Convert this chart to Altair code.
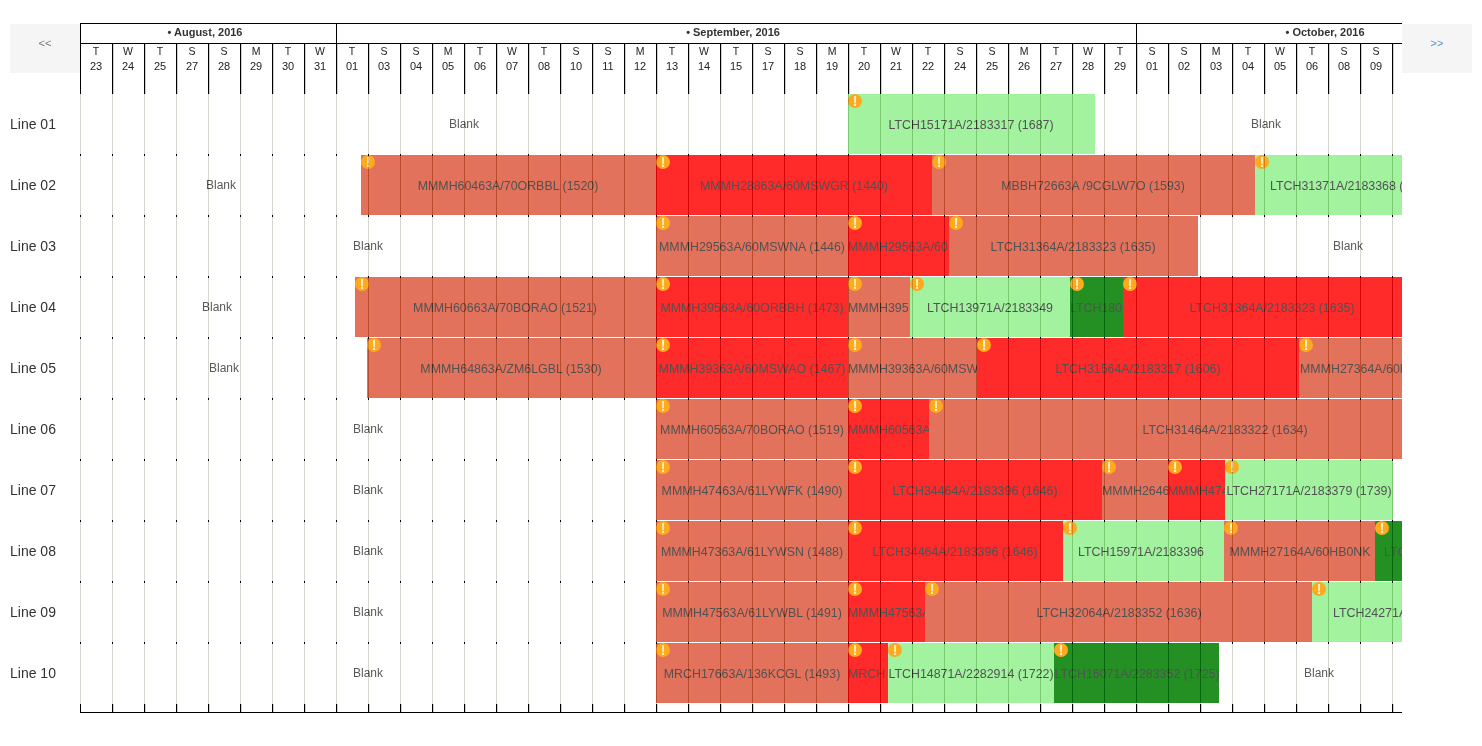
import altair as alt
import pandas as pd

# Timeline units: 32 units per displayed day; rows are 61 units tall.
DAY = 32
ROW = 61
FONT = "Liberation Sans"

months = ["•  August, 2016", "•  September, 2016", "•  October, 2016"]
month_starts = [0, 256, 1056]
month_label_pos = [125, 653, 1245]

day_letters = list("TWTSSMTW") + list("TSSMTWTSSMTWTSSMTWTSSMTWT") + list("SSMTWTSS")
day_numbers = ["23", "24", "25", "27", "28", "29", "30", "31",
               "01", "03", "04", "05", "06", "07", "08", "10", "11", "12", "13", "14", "15",
               "17", "18", "19", "20", "21", "22", "24", "25", "26", "27", "28", "29",
               "01", "02", "03", "04", "05", "06", "08", "09"]

lines = ["Line 01", "Line 02", "Line 03", "Line 04", "Line 05",
         "Line 06", "Line 07", "Line 08", "Line 09", "Line 10"]

seg_rows = [0,
            1, 1, 1, 1,
            2, 2, 2,
            3, 3, 3, 3, 3, 3,
            4, 4, 4, 4, 4,
            5, 5, 5,
            6, 6, 6, 6, 6,
            7, 7, 7, 7, 7,
            8, 8, 8, 8,
            9, 9, 9, 9]
seg_starts = [768,
              281, 576, 852, 1175,
              576, 768, 869,
              275, 576, 768, 830, 990, 1043,
              287, 576, 768, 897, 1219,
              576, 768, 849,
              576, 768, 1022, 1088, 1145,
              576, 768, 983, 1144, 1295,
              576, 768, 845, 1232,
              576, 768, 808, 974]
seg_ends = [1015,
            576, 852, 1175, 1322,
            768, 869, 1118,
            576, 768, 830, 990, 1043, 1322,
            576, 768, 897, 1219, 1322,
            768, 849, 1322,
            768, 1022, 1088, 1145, 1313,
            768, 983, 1144, 1295, 1322,
            768, 845, 1232, 1322,
            768, 808, 974, 1139]
seg_status = ["light",
              "salmon", "red", "salmon", "light",
              "salmon", "red", "salmon",
              "salmon", "red", "salmon", "light", "dark", "red",
              "salmon", "red", "salmon", "red", "salmon",
              "salmon", "red", "salmon",
              "salmon", "red", "salmon", "red", "light",
              "salmon", "red", "light", "salmon", "dark",
              "salmon", "red", "salmon", "light",
              "salmon", "red", "light", "dark"]
seg_labels = ["LTCH15171A/2183317 (1687)",
              "MMMH60463A/70ORBBL (1520)", "MMMH28863A/60MSWGR (1440)", "MBBH72663A /9CGLW7O (1593)", "LTCH31371A/2183368 (",
              "MMMH29563A/60MSWNA (1446)", "MMMH29563A/60", "LTCH31364A/2183323 (1635)",
              "MMMH60663A/70BORAO (1521)", "MMMH39563A/60ORBBH (1473)", "MMMH395", "LTCH13971A/2183349", "LTCH180", "LTCH31364A/2183323 (1635)",
              "MMMH64863A/ZM6LGBL (1530)", "MMMH39363A/60MSWAO (1467)", "MMMH39363A/60MSW", "LTCH31564A/2183317 (1606)", "MMMH27364A/60H",
              "MMMH60563A/70BORAO (1519)", "MMMH60563A", "LTCH31464A/2183322 (1634)",
              "MMMH47463A/61LYWFK (1490)", "LTCH34464A/2183396 (1646)", "MMMH2646", "MMMH474", "LTCH27171A/2183379 (1739)",
              "MMMH47363A/61LYWSN (1488)", "LTCH34464A/2183396 (1646)", "LTCH15971A/2183396", "MMMH27164A/60HB0NK", "LTC",
              "MMMH47563A/61LYWBL (1491)", "MMMH47563A", "LTCH32064A/2183352 (1636)", "LTCH24271A",
              "MRCH17663A/136KCGL (1493)", "MRCH", "LTCH14871A/2282914 (1722)", "LTCH16071A/2283352 (1725)"]
label_pos = [891,
             428, 714, 1013, 1190,
             672, 768, 993,
             425, 672, 768, 910, 990, 1192,
             431, 672, 768, 1058, 1220,
             672, 768, 1145,
             672, 895, 1022, 1088, 1229,
             672, 875, 1061, 1220, 1304,
             672, 768, 1039, 1253,
             672, 768, 891, 1057]
label_align = ["center",
               "center", "center", "center", "left",
               "center", "left", "center",
               "center", "center", "left", "center", "left", "center",
               "center", "center", "left", "center", "left",
               "center", "left", "center",
               "center", "center", "left", "left", "center",
               "center", "center", "center", "center", "left",
               "center", "left", "center", "left",
               "center", "left", "center", "center"]

blank_rows = [0, 0, 1, 2, 2, 3, 4, 5, 6, 7, 8, 9, 9]
blank_pos = [384, 1186, 141, 288, 1268, 137, 144, 288, 288, 288, 288, 288, 1239]

status_order = ["salmon", "red", "light", "dark"]
status_colors = ["#e2725b", "#ff2a2a", "#a2f2a0", "#249024"]

N_DAYS = len(day_numbers)
TIMELINE_END = 1322
X_MIN, X_MAX = -72, 1394
Y_MIN, Y_MAX = -86, 644
PX = 0.5  # puts 1-wide rules on whole device pixels

x_scale = alt.Scale(domain=[X_MIN, X_MAX], nice=False, zero=False)
y_scale = alt.Scale(domain=[Y_MIN, Y_MAX], nice=False, zero=False, reverse=True)
X = lambda f="x": alt.X(f"{f}:Q", scale=x_scale, axis=None, title=None)
Y = lambda f="y": alt.Y(f"{f}:Q", scale=y_scale, axis=None, title=None)
X2 = lambda f="x2": alt.X2(f"{f}:Q")
Y2 = lambda f="y2": alt.Y2(f"{f}:Q")

segs = pd.DataFrame({
    "row": seg_rows, "x": seg_starts, "x2": seg_ends, "status": seg_status,
    "label": seg_labels, "pos": label_pos, "align": label_align,
})
segs["y"] = segs["row"] * ROW
segs["y2"] = segs["y"] + ROW - 1
segs["ly"] = segs["y"] + ROW / 2

# Clipped labels overflow their bar; the bar that follows is drawn again on top of them.
left_segs = segs[segs["align"] == "left"]
left_ends = set(zip(left_segs["row"], left_segs["x2"]))
is_cover = [(r, s) in left_ends for r, s in zip(segs["row"], segs["x"])]
cover_segs = segs[is_cover]
late_left = cover_segs[cover_segs["align"] == "left"]
late_ends = set(zip(late_left["row"], late_left["x2"]))
late_cover = segs[[(r, s) in late_ends for r, s in zip(segs["row"], segs["x"])]]
early_left = left_segs[[(r, s) not in left_ends for r, s in zip(left_segs["row"], left_segs["x"])]]

days = pd.DataFrame({"i": range(N_DAYS), "letter": day_letters, "num": day_numbers})
days["c"] = days["i"] * DAY + DAY / 2
days["yl"] = -42.5
days["yn"] = -27.5

edges = pd.DataFrame({"x": [i * DAY for i in range(N_DAYS + 1)]})


def rules(df, color, width=1.0, opacity=1.0, blend=None):
    kw = {"blend": blend} if blend else {}
    return alt.Chart(df).mark_rule(color=color, strokeWidth=width, opacity=opacity, **kw).encode(
        x=X(), x2=X2(), y=Y(), y2=Y2())


def vlines(xs, y0, y1, color, width=1.0, opacity=1.0, blend=None):
    xs = [v + PX for v in xs]
    return rules(pd.DataFrame({"x": xs, "x2": xs, "y": y0, "y2": y1}), color, width, opacity, blend)


def hline(y, x0=0, x1=TIMELINE_END):
    return rules(pd.DataFrame({"x": [x0], "x2": [x1], "y": [y + PX], "y2": [y + PX]}), "#000000")


def texts(df, xf, yf, tf, size, color, align="center", weight="normal", opacity=1.0):
    return alt.Chart(df).mark_text(
        font=FONT, fontSize=size, color=color, align=align, baseline="middle",
        fontWeight=weight, opacity=opacity,
    ).encode(x=X(xf), y=Y(yf), text=alt.Text(f"{tf}:N"))


def bar_layer(df):
    return alt.Chart(df).mark_rect().encode(
        x=X(), x2=X2(), y=Y(), y2=Y2(),
        color=alt.Color("status:N", scale=alt.Scale(domain=status_order, range=status_colors), legend=None),
    )


LABEL_SIZE = 12.4
LABEL_COLOR = "#525252"
label_center = texts(segs[segs["align"] == "center"], "pos", "ly", "label", LABEL_SIZE, LABEL_COLOR)
label_left_early = texts(early_left, "pos", "ly", "label", LABEL_SIZE, LABEL_COLOR, align="left")
label_left_late = texts(late_left, "pos", "ly", "label", LABEL_SIZE, LABEL_COLOR, align="left")

blanks = pd.DataFrame({"pos": blank_pos, "ly": [r * ROW + 30 for r in blank_rows], "label": ["Blank"] * len(blank_rows)})
blank_text = texts(blanks, "pos", "ly", "label", 12, "#5a5a5a")

icons = alt.Chart(segs).mark_point(
    filled=True, size=196, color="#ffa91f", opacity=1, xOffset=7, yOffset=7
).encode(x=X("x"), y=Y("y"))
bang = alt.Chart(segs.assign(mark="!")).mark_text(
    font=FONT, fontSize=14, fontWeight="bold", color="#fff1c8", align="center", baseline="middle",
    xOffset=7, yOffset=7.5,
).encode(x=X("x"), y=Y("y"), text="mark:N")

edge_x = edges["x"].tolist()
grid = vlines(edge_x, 0, ROW * 10, "#282830", 1, 1, blend="difference")
row_ticks = [vlines(edge_x, ROW * r - 1, ROW * r + 1, "#000000") for r in range(1, 10)]
head_black = vlines(edge_x, -50, 0, "#000000")
head_gold = vlines([e + 1 for e in edge_x[1:]], -50, 0, "#e0d884")
foot_black = vlines(edge_x, ROW * 10, ROW * 10 + 8, "#000000")
foot_gold = vlines([e + 1 for e in edge_x[1:]], ROW * 10, ROW * 10 + 8, "#e0d884")

month_df = pd.DataFrame({"label": months, "pos": month_label_pos, "y": -61.5})
month_text = texts(month_df, "pos", "y", "label", 11, "#333333", weight="bold")
month_sep = vlines(month_starts, -70, -51, "#000000")

letter_text = texts(days, "c", "yl", "letter", 10.5, "#222222")
num_text = texts(days, "c", "yn", "num", 11, "#222222")

line_df = pd.DataFrame({"label": lines, "x": -70, "y": [r * ROW + 30.5 for r in range(10)]})
line_text = texts(line_df, "x", "y", "label", 14, "#333333", align="left")

mask = alt.Chart(pd.DataFrame({"x": [TIMELINE_END], "x2": [X_MAX], "y": [Y_MIN], "y2": [Y_MAX]})).mark_rect(color="#ffffff").encode(
    x=X(), x2=X2(), y=Y(), y2=Y2())
btn_df = pd.DataFrame({"x": [-70, TIMELINE_END], "x2": [0, TIMELINE_END + 70], "y": [-70, -70], "y2": [-21, -21]})
btns = alt.Chart(btn_df).mark_rect(color="#f5f5f5").encode(x=X(), x2=X2(), y=Y(), y2=Y2())
prev_txt = texts(pd.DataFrame({"label": ["<<"], "x": [-35], "y": [-50]}), "x", "y", "label", 11, "#777777")
next_txt = texts(pd.DataFrame({"label": [">>"], "x": [TIMELINE_END + 35], "y": [-50]}), "x", "y", "label", 11, "#4a90d9")

chart = alt.layer(
    bar_layer(segs), label_left_early, bar_layer(cover_segs), label_left_late, bar_layer(late_cover),
    label_center, blank_text, icons, bang, grid, *row_ticks,
    head_black, head_gold, foot_black, foot_gold,
    month_text, month_sep, letter_text, num_text, line_text,
    mask, btns, prev_txt, next_txt,
    hline(-71), hline(-51), hline(ROW * 10 + 8),
).properties(
    width=X_MAX - X_MIN, height=Y_MAX - Y_MIN,
    autosize=alt.AutoSizeParams(type="none"), padding=0, background="#ffffff",
).configure_view(stroke=None)

chart.save("out.html", embed_options={"renderer": "svg", "actions": False})
